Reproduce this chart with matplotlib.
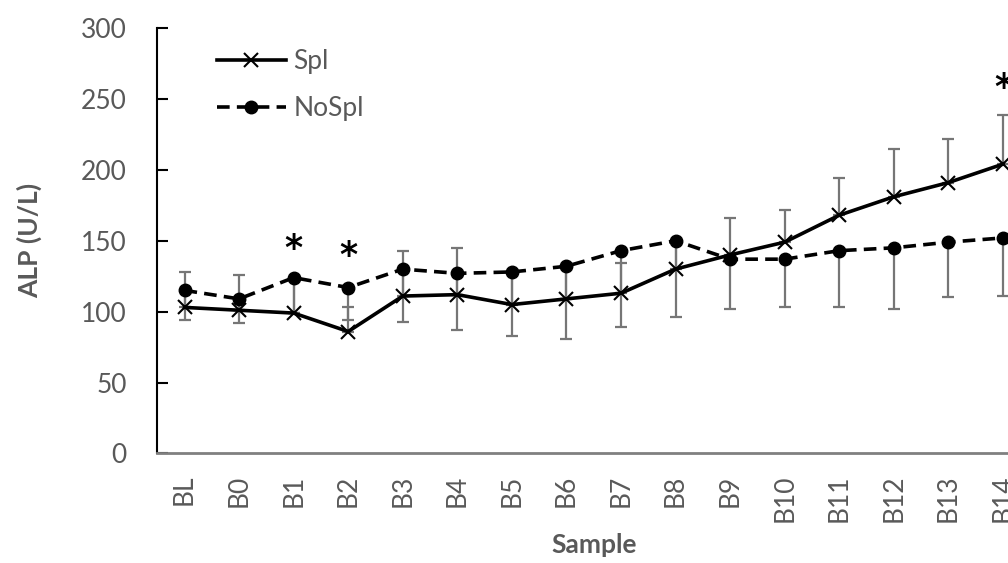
import numpy as np
import matplotlib.pyplot as plt

samples = ["BL", "B0", "B1", "B2", "B3", "B4", "B5", "B6", "B7",
           "B8", "B9", "B10", "B11", "B12", "B13", "B14"]
spl = [103, 101, 99, 86, 111, 112, 105, 109, 113, 130, 140, 149, 168, 181, 191, 204]
nospl = [115, 109, 124, 117, 130, 127, 128, 132, 143, 150, 137, 137, 143, 145, 149, 152]
spl_err_up = [25, 25, 25, 17, 32, 33, 23, 22, 21, 20, 26, 23, 26, 34, 31, 35]
nospl_err_down = [21, 17, 25, 23, 37, 40, 45, 51, 54, 54, 35, 34, 40, 43, 39, 41]
star_samples = ["B1", "B2", "B14"]
star_y = [144, 139, 258]

plt.rcParams['font.family'] = ['Lato', 'DejaVu Sans']
gray = "#595959"

fig = plt.figure(figsize=(10.08, 5.63), dpi=100)
ax = fig.add_axes([0.156, 0.1945, 0.866, 0.7558])

x = np.arange(len(samples))

# error bars first (behind the lines)
ax.errorbar(x, spl, yerr=[np.zeros(len(spl)), spl_err_up], fmt="none",
            ecolor="#767676", elinewidth=1.6, capsize=4.3, capthick=1.6, zorder=1)
ax.errorbar(x, nospl, yerr=[nospl_err_down, np.zeros(len(nospl))], fmt="none",
            ecolor="#767676", elinewidth=1.6, capsize=4.3, capthick=1.6, zorder=1)

ax.plot(x, spl, color="black", lw=2.6, marker="x", markersize=10,
        markeredgewidth=1.5, label="Spl", zorder=3)
ax.plot(x, nospl, color="black", lw=2.6, linestyle=(0, (3.5, 2)), marker="o",
        markersize=9, label="NoSpl", zorder=3)

for s, sy in zip(star_samples, star_y):
    ax.text(samples.index(s), sy, "*", fontsize=25, fontweight="bold",
            ha="center", va="center", color="black", family="DejaVu Sans")

ax.set_xlim(-0.5, 15.5)
ax.set_ylim(0, 300)
ax.set_yticks(range(0, 301, 50))
ax.set_xticks(x)
ax.set_xticklabels(samples, rotation=90)

ax.tick_params(axis="y", direction="in", length=8, width=1.5, color="black",
               labelsize=19, labelcolor=gray, pad=22)
ax.tick_params(axis="x", length=0, labelsize=19, labelcolor=gray, pad=15)

for s in ["top", "right"]:
    ax.spines[s].set_visible(False)
ax.spines["left"].set_color("black")
ax.spines["left"].set_linewidth(1.5)
ax.spines["bottom"].set_color("#808080")
ax.spines["bottom"].set_linewidth(2)

ax.set_ylabel("ALP (U/L)", fontsize=19, fontweight="bold", color=gray)
ax.yaxis.set_label_coords(-0.132, 0.5)
ax.set_xlabel("Sample", fontsize=19, fontweight="bold", color=gray)
ax.xaxis.set_label_coords(0.5, -0.187)

ax.legend(loc="upper left", bbox_to_anchor=(217 / 1008, 1 - 49 / 563),
          bbox_transform=fig.transFigure, frameon=False, fontsize=19,
          handlelength=2.6, handletextpad=0.3, borderpad=0, borderaxespad=0,
          labelspacing=0.85, labelcolor=gray, numpoints=1)

fig.savefig("out.png", dpi=100)
